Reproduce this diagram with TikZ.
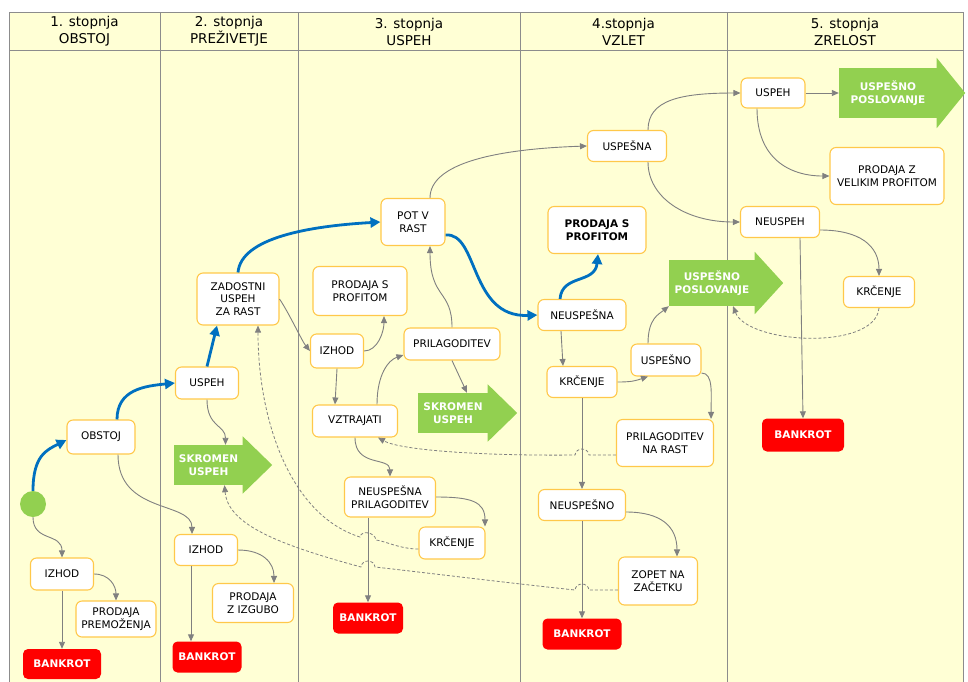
\documentclass[tikz,border=0pt]{standalone}
\usepackage{fontspec}
\setmainfont{DejaVu Sans}
\usetikzlibrary{arrows.meta}

\definecolor{tablebg}{HTML}{FFFFD5}
\definecolor{gridgray}{HTML}{8C8C8C}
\definecolor{flowgray}{HTML}{808080}
\definecolor{flowblue}{HTML}{0070C0}
\definecolor{boxedge}{HTML}{FFC84A}
\definecolor{arrowgreen}{HTML}{92D050}
\definecolor{bankred}{HTML}{FF0000}

\tikzset{
  header/.style={align=center, inner sep=0pt, font=\fontsize{13.5}{17}\selectfont},
  box/.style={draw=boxedge, fill=white, line width=1.1pt, rounded corners=6pt,
    align=center, inner sep=1pt, font=\fontsize{10.5}{12.5}\selectfont},
  redbox/.style={fill=bankred, rounded corners=5pt, text=white, inner sep=1pt,
    font=\fontsize{10.5}{12.5}\selectfont\bfseries},
  greenbody/.style={fill=arrowgreen, text=white, align=center, inner sep=0pt,
    font=\fontsize{10.5}{13}\selectfont\bfseries},
  startdot/.style={circle, fill=arrowgreen, minimum size=26pt, inner sep=0pt},
  flow/.style={draw=flowgray, line width=0.9pt, -{Triangle[length=7pt,width=6pt]}},
  mainflow/.style={draw=flowblue, line width=2.8pt, -{Triangle[length=10pt,width=10pt]}},
  backflow/.style={draw=flowgray, line width=0.8pt, dash pattern=on 3pt off 2pt,
    -{Triangle[length=7pt,width=6pt]}}
}

% head of a green arrow: node name, how far it sticks out, its length
\newcommand{\greenhead}[3]{%
  \fill[arrowgreen] ([xshift=-0.5pt,yshift=#2]#1.north east) -- ([xshift=#3]#1.east)
    -- ([xshift=-0.5pt,yshift=-#2]#1.south east) -- cycle;}

\begin{document}
\begin{tikzpicture}[x=1pt,y=-1pt]
\useasboundingbox (0,0) rectangle (968,681);

% table
\fill[tablebg] (9,12) rectangle (963,684);
\draw[gridgray, line width=1pt] (9,684) -- (9,12) -- (963,12) -- (963,684);
\draw[gridgray, line width=1pt] (9,50) -- (963,50);
\foreach \x in {160,298,520,727}
  \draw[gridgray, line width=1pt] (\x,12) -- (\x,684);

% headers
\node[header] (h1) at (84.5,31.5) {1. stopnja\\OBSTOJ};
\node[header] (h2) at (229,31.5) {2. stopnja\\PREŽIVETJE};
\node[header] (h3) at (409,31.5) {3. stopnja\\USPEH};
\node[header] (h4) at (623.5,31.5) {4.stopnja\\VZLET};
\node[header] (h5) at (845,31.5) {5. stopnja\\ZRELOST};

% 1. stopnja
\node[startdot] (start) at (33,504) {};
\node[box, minimum width=68pt, minimum height=34pt] (obstoj) at (101,437) {OBSTOJ};
\node[box, minimum width=63pt, minimum height=32pt] (izhod1) at (62,574) {IZHOD};
\node[box, minimum width=80pt, minimum height=36pt] (premoz) at (116,619) {PRODAJA\\PREMOŽENJA};
\node[redbox, minimum width=78pt, minimum height=30pt] (bank1) at (62,664) {BANKROT};

% 2. stopnja
\node[box, minimum width=63pt, minimum height=32pt] (uspeh2) at (207,383) {USPEH};
\node[greenbody, minimum width=69pt, minimum height=40pt] (skr2) at (208.5,465) {SKROMEN\\USPEH};
\greenhead{skr2}{8.5pt}{29pt}
\node[box, minimum width=82pt, minimum height=52pt] (zadost) at (238,299) {ZADOSTNI\\USPEH\\ZA RAST};
\node[box, minimum width=63pt, minimum height=31pt] (izhod2) at (206,550) {IZHOD};
\node[box, minimum width=81pt, minimum height=39pt] (izguba) at (253,603) {PRODAJA\\Z IZGUBO};
\node[redbox, minimum width=69pt, minimum height=31pt] (bank2) at (207,657) {BANKROT};

% 3. stopnja
\node[box, minimum width=64pt, minimum height=47pt] (potv) at (413,222) {POT V\\RAST};
\node[box, minimum width=94pt, minimum height=49pt] (profit3) at (360,291) {PRODAJA S\\PROFITOM};
\node[box, minimum width=53pt, minimum height=34pt] (izhod3) at (337,351) {IZHOD};
\node[box, minimum width=96pt, minimum height=32pt] (prilag) at (452,344) {PRILAGODITEV};
\node[box, minimum width=85pt, minimum height=32pt] (vztr) at (355,421) {VZTRAJATI};
\node[greenbody, minimum width=70pt, minimum height=40pt] (skr3) at (453,413) {SKROMEN\\USPEH};
\greenhead{skr3}{8.5pt}{29pt}
\node[box, minimum width=91pt, minimum height=40pt] (neprilag) at (390,497) {NEUSPEŠNA\\PRILAGODITEV};
\node[box, minimum width=66pt, minimum height=32pt] (krc3) at (452,543) {KRČENJE};
\node[redbox, minimum width=70pt, minimum height=31pt] (bank3) at (368,618) {BANKROT};

% 4. stopnja
\node[box, minimum width=79pt, minimum height=31pt] (uspesna) at (627,146) {USPEŠNA};
\node[box, minimum width=98pt, minimum height=47pt, font=\fontsize{10.5}{12.5}\selectfont\bfseries] (profit4) at (597,230) {PRODAJA S\\PROFITOM};
\node[box, minimum width=88pt, minimum height=31pt] (neusp4) at (582,315) {NEUSPEŠNA};
\node[box, minimum width=70pt, minimum height=31pt] (krc4) at (582,382) {KRČENJE};
\node[box, minimum width=70pt, minimum height=32pt] (uspesno) at (666,360) {USPEŠNO};
\node[greenbody, minimum width=86pt, minimum height=46pt] (posl4) at (712,283) {USPEŠNO\\POSLOVANJE};
\greenhead{posl4}{8pt}{28pt}
\node[box, minimum width=97pt, minimum height=47pt] (narast) at (665,443) {PRILAGODITEV\\NA RAST};
\node[box, minimum width=87pt, minimum height=31pt] (neuspesno) at (582,505) {NEUSPEŠNO};
\node[box, minimum width=79pt, minimum height=48pt] (zopet) at (658,581) {ZOPET NA\\ZAČETKU};
\node[redbox, minimum width=79pt, minimum height=31pt] (bank4) at (582,634) {BANKROT};

% 5. stopnja
\node[box, minimum width=64pt, minimum height=30pt] (uspeh5) at (773,93) {USPEH};
\node[greenbody, minimum width=98pt, minimum height=50pt] (posl5) at (888,93) {USPEŠNO\\POSLOVANJE};
\greenhead{posl5}{10pt}{28pt}
\node[box, minimum width=114pt, minimum height=57pt] (velprofit) at (887,176) {PRODAJA Z\\VELIKIM PROFITOM};
\node[box, minimum width=79pt, minimum height=31pt] (neuspeh5) at (780,222) {NEUSPEH};
\node[box, minimum width=71pt, minimum height=31pt] (krc5) at (879,292) {KRČENJE};
\node[redbox, minimum width=82pt, minimum height=33pt] (bank5) at (803,435) {BANKROT};

% main path
\draw[mainflow] (start.north) .. controls +(0,-35) and +(-20,10) .. ([yshift=-3pt]obstoj.west);
\draw[mainflow] ([xshift=16pt]obstoj.north) .. controls +(0,-30) and +(-30,3) .. (uspeh2.west);
\draw[mainflow] (uspeh2.north) -- ([xshift=-21pt]zadost.south);
\draw[mainflow] (zadost.north) .. controls +(3,-35) and +(-70,4) .. (potv.west);
\draw[mainflow] ([yshift=-13pt]potv.east) .. controls +(33,-3) and +(-68,3) .. (neusp4.west);
\draw[mainflow] ([xshift=-22pt]neusp4.north) .. controls +(2,-25) and +(-3,30) .. ([xshift=1pt]profit4.south);

% other paths
\draw[flow] (start.south) .. controls +(0,25) and +(0,-25) .. (izhod1.north);
\draw[flow] (izhod1.east) .. controls +(15,0) and +(0,-15) .. (premoz.north);
\draw[flow] (izhod1.south) -- (bank1.north);
\draw[flow] ([xshift=17pt]obstoj.south) .. controls +(0,60) and +(0,-33) .. ([xshift=-14pt]izhod2.north);
\draw[flow] (uspeh2.south) .. controls +(0,28) and +(0,-20) .. ([xshift=17pt]skr2.north);
\draw[flow] (izhod2.east) .. controls +(25,0) and +(0,-20) .. ([xshift=21pt]izguba.north);
\draw[flow] ([xshift=-15pt]izhod2.south) -- ([xshift=-16pt]bank2.north);
\draw[flow] (zadost.east) .. controls +(10,15) and +(-8,-10) .. (izhod3.west);
\draw[flow] (izhod3.east) .. controls +(14,0) and +(0,15) .. ([xshift=24pt]profit3.south);
\draw[flow] (izhod3.south) -- ([xshift=-20pt]vztr.north);
\draw[flow] ([xshift=22pt]vztr.north) .. controls +(0,-30) and +(-15,5) .. ([yshift=-11pt]prilag.west);
\draw[flow] (vztr.south) .. controls +(0,30) and +(0,-20) .. (neprilag.north);
\draw[flow] (prilag.north) .. controls +(0,-38) and +(0,53) .. ([xshift=17pt]potv.south);
\draw[flow] (prilag.south) -- ([xshift=14pt]skr3.north);
\draw[flow] (neprilag.east) .. controls +(35,0) and +(0,-25) .. ([xshift=33pt]krc3.north);
\draw[flow] ([xshift=-22pt]neprilag.south) -- (bank3.north);
\draw[flow] ([xshift=17pt]potv.north) .. controls +(0,-35) and +(-90,3) .. (uspesna.west);
\draw[flow] ([xshift=21pt]uspesna.north) .. controls +(0,-30) and +(-60,0) .. (uspeh5.west);
\draw[flow] ([xshift=21pt]uspesna.south) .. controls +(0,35) and +(-55,0) .. (neuspeh5.west);
\draw[flow] ([xshift=-21pt]neusp4.south) -- ([xshift=-19pt]krc4.north);
\draw[flow] (krc4.east) .. controls +(15,0) and +(-12,4) .. ([xshift=-18pt]uspesno.south);
\draw[flow] ([xshift=-18pt]uspesno.north) .. controls +(0,-25) and +(-10,8) .. (posl4.south west);
\draw[flow] ([yshift=-13pt]uspesno.east) .. controls +(12,0) and +(0,-25) .. ([xshift=-3pt]narast.north east);
\draw[flow] (krc4.south) -- (neuspesno.north);
\draw[flow] ([yshift=-7pt]neuspesno.east) .. controls +(35,0) and +(0,-30) .. ([xshift=19pt]zopet.north);
\draw[flow] (neuspesno.south) -- (bank4.north);
\draw[flow] (uspeh5.east) -- (posl5.west);
\draw[flow] ([xshift=-16pt]uspeh5.south) .. controls +(0,50) and +(-40,0) .. (velprofit.west);
\draw[flow] ([yshift=-8pt]neuspeh5.east) .. controls +(40,0) and +(0,-30) .. (krc5.north);
\draw[flow] ([xshift=20pt]neuspeh5.south) -- (bank5.north);

% ways back (with hops over crossing lines)
\draw[backflow] (krc5.south) .. controls +(-4,43) and +(15,38) .. ([xshift=21pt]posl4.south);
\draw[backflow] ([yshift=-12pt]narast.west) -- (589,455)
  .. controls (588,447) and (576,447) .. (575,455)
  .. controls (480,456) and (400,450) .. ([xshift=23pt]vztr.south);
\draw[backflow] ([yshift=-9pt]zopet.west) -- (589,590)
  .. controls (588,582) and (576,582) .. (575,590)
  .. controls (500,582) and (420,572) .. (375,567)
  .. controls (374,559) and (362,559) .. (361,567)
  .. controls (280,545) and (228,525) .. ([xshift=16pt]skr2.south);
\draw[backflow] ([yshift=-6pt]krc3.west) .. controls (400,549) and (385,541) .. (376,540)
  .. controls (375,532) and (361,530) .. (360,537)
  .. controls (290,515) and (258,420) .. ([xshift=20pt]zadost.south);
\end{tikzpicture}
\end{document}
